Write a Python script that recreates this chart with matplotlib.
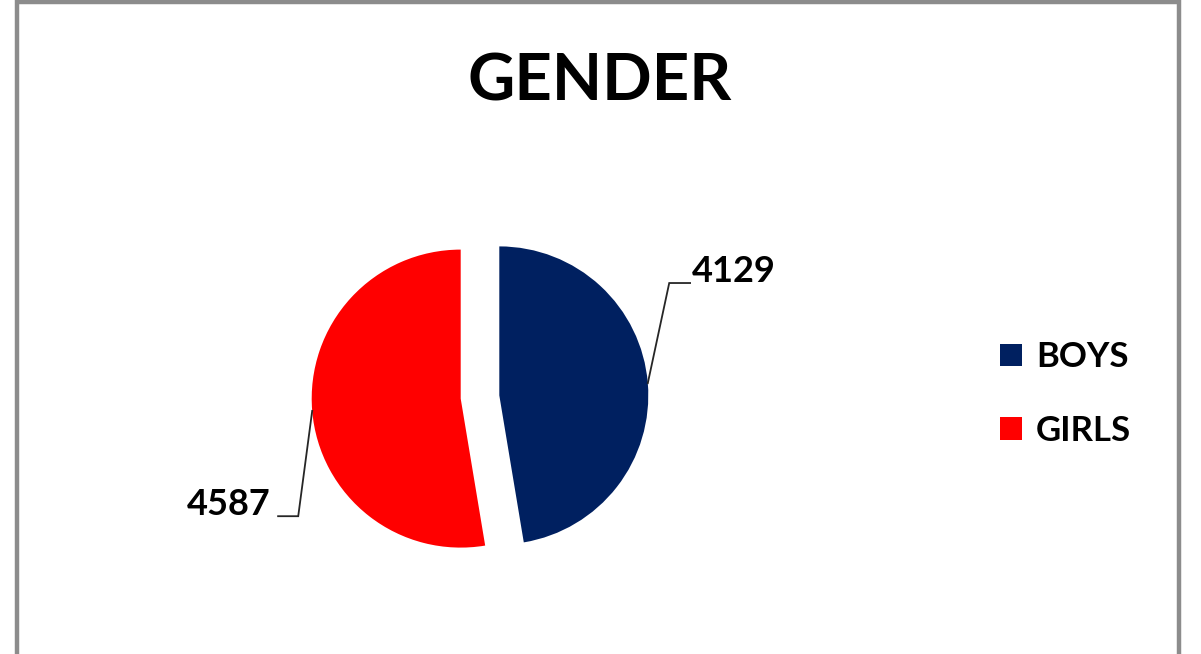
import matplotlib
matplotlib.use("Agg")
import matplotlib.pyplot as plt
from matplotlib.patches import Rectangle
import numpy as np

# ---- data ----
categories = ["BOYS", "GIRLS"]
values = [4129, 4587]
colors = ["#002060", "#FF0000"]
title = "GENDER"

plt.rcParams['font.family'] = ['Lato', 'DejaVu Sans']

W, H = 1201, 654
fig = plt.figure(figsize=(W / 100, H / 100), dpi=100)
fig.patch.set_facecolor("white")

# frame around the chart area
fig.patches.append(Rectangle((17 / W, -0.02), (1179 - 17) / W, (H - 2) / H + 0.02,
                             transform=fig.transFigure, fill=False,
                             edgecolor="#8c8c8c", linewidth=3.2))

# pie axes: center at (480, 397) px from top-left, radius 149 px
cx, cy, rpx = 480, 397, 149
R = 1.7
side = 2 * R * rpx
ax = fig.add_axes([(cx - side / 2) / W, (H - cy - side / 2) / H, side / W, side / H])
wedges, _ = ax.pie(values, colors=colors, startangle=90, counterclock=False,
                   explode=[0.13, 0.13], radius=1.0)
ax.set_xlim(-R, R)
ax.set_ylim(-R, R)
ax.set_aspect("equal")
ax.axis("off")

# data labels with leader lines
elbows = [(1.27, 0.765), (-1.22, -0.80)]
seg = [0.14, -0.135]
for w, v, (ex, ey), s in zip(wedges, values, elbows, seg):
    th = np.deg2rad((w.theta1 + w.theta2) / 2)
    x0 = w.center[0] + w.r * np.cos(th)
    y0 = w.center[1] + w.r * np.sin(th)
    x2 = ex + s
    ax.plot([x0, ex, x2], [y0, ey, ey], color="#262626", linewidth=1.3,
            solid_joinstyle="miter")
    if s > 0:
        ax.text(x2 + 0.015, ey + 0.08, f"{v}", ha="left", va="center",
                fontsize=26, fontweight="bold", color="black")
    else:
        ax.text(x2 - 0.05, ey + 0.08, f"{v}", ha="right", va="center",
                fontsize=26, fontweight="bold", color="black")

# title
fig.text(600 / W, 1 - 82 / H, title, ha="center", va="center",
         fontsize=47, fontweight="bold", color="black")

# legend
leg = fig.legend(wedges, categories, loc="center left",
                 bbox_to_anchor=(1000 / W, 1 - 394 / H),
                 frameon=False, borderpad=0, borderaxespad=0,
                 handlelength=0.63, handleheight=0.63, handletextpad=0.4,
                 labelspacing=1.2, prop={"weight": "bold", "size": 25})

fig.savefig("out.png", dpi=100, facecolor="white")
